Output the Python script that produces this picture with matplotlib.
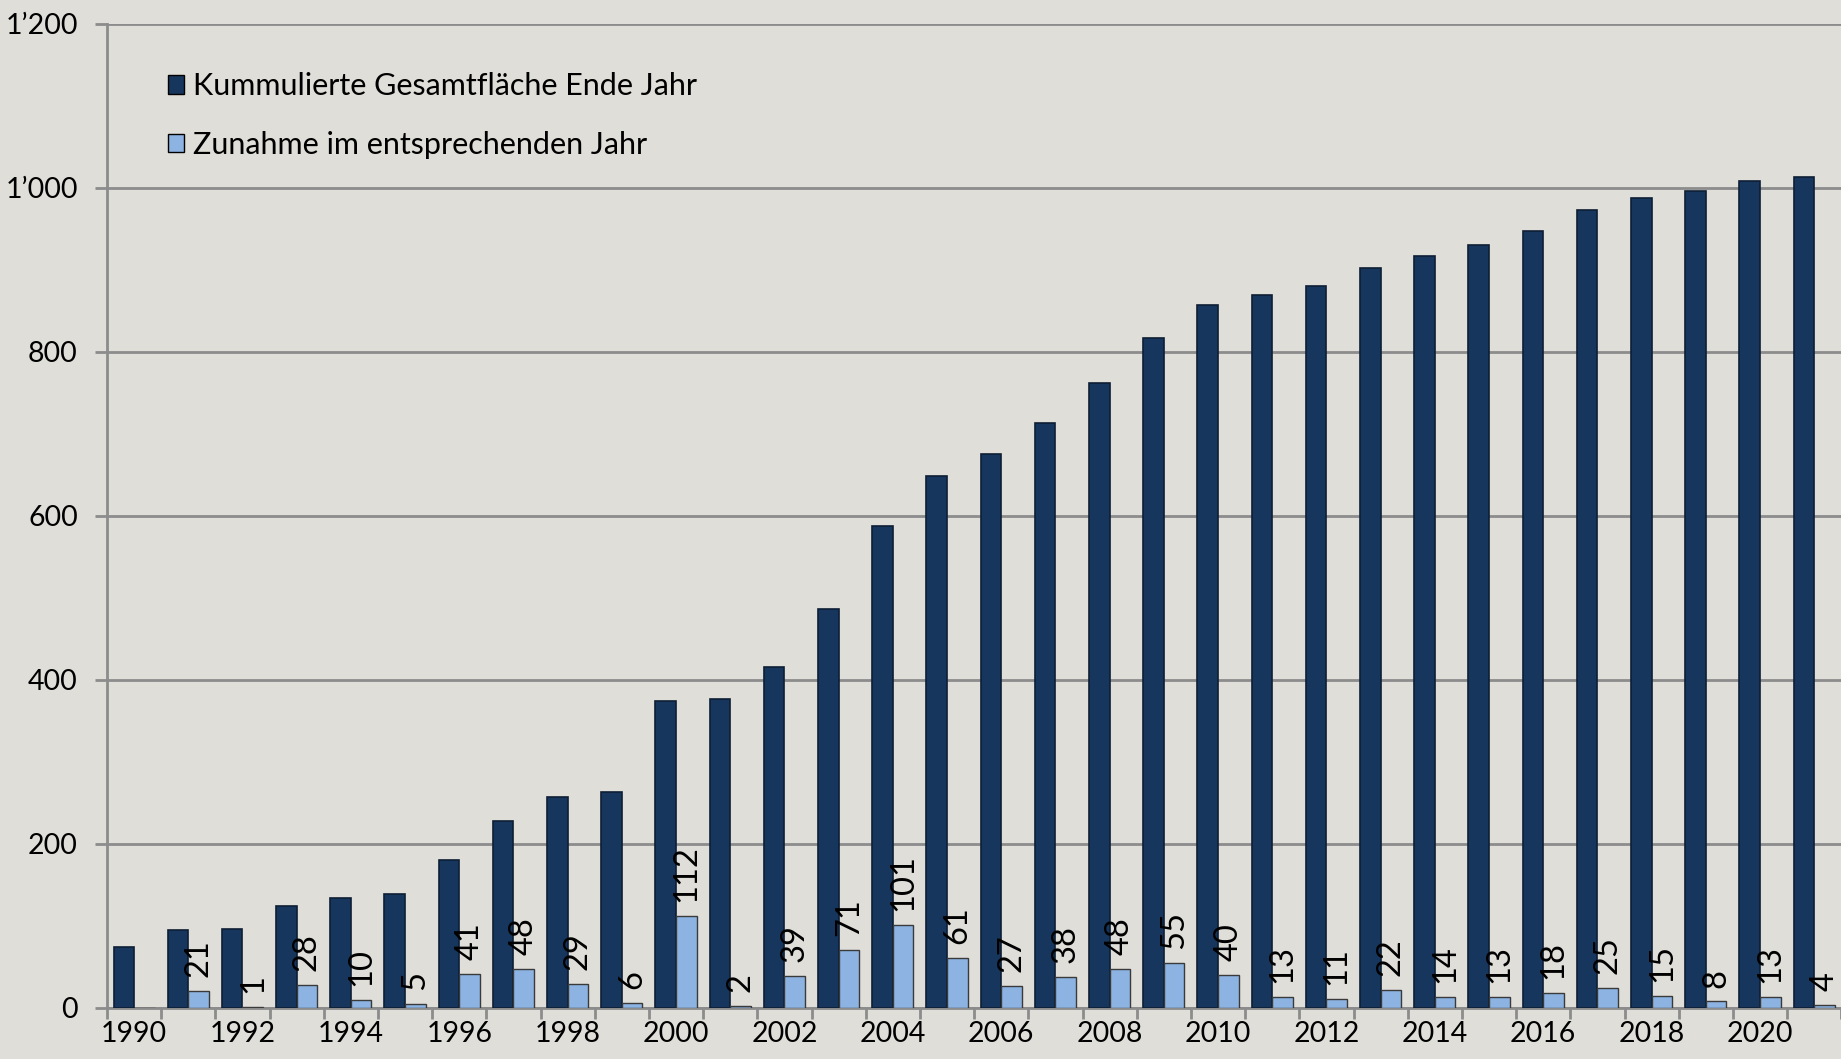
import matplotlib.pyplot as plt
import numpy as np
from matplotlib.patches import Patch

years = list(range(1990, 2022))
kumuliert = [74, 95, 96, 124, 134, 139, 180, 228, 257, 263, 375, 377, 416, 487, 588, 649,
             676, 714, 762, 817, 857, 870, 881, 903, 917, 930, 948, 973, 988, 996, 1009, 1013]
zunahme = [None, 21, 1, 28, 10, 5, 41, 48, 29, 6, 112, 2, 39, 71, 101, 61,
           27, 38, 48, 55, 40, 13, 11, 22, 14, 13, 18, 25, 15, 8, 13, 4]
y_ticks = [0, 200, 400, 600, 800, 1000, 1200]
y_labels = ["0", "200", "400", "600", "800", "1\u2019000", "1\u2019200"]

bg = "#dfded8"
dark = "#17365d"
light = "#8db3e2"
grid = "#8c8c8c"

plt.rcParams['font.family'] = ['Lato', 'DejaVu Sans']

fig = plt.figure(figsize=(18.41, 10.59), dpi=100, facecolor=bg)
ax = fig.add_axes([107 / 1841, 51 / 1059, 1 - 107 / 1841 + 3 / 1841, 984 / 1059])
ax.set_facecolor(bg)

x = np.arange(len(years))
w = 0.38
ax.bar(x - w / 2, kumuliert, w, color=dark, edgecolor="#0d1f35", linewidth=1.2, zorder=3)
z_vals = [v if v is not None else 0 for v in zunahme]
ax.bar(x + w / 2, z_vals, w, color=light, edgecolor="#3a3a3a", linewidth=1.0, zorder=3)
for xi, v in zip(x, zunahme):
    if v is None:
        continue
    ax.annotate(str(v), (xi + w / 2, v), xytext=(0, 10), textcoords="offset points",
                rotation=90, ha="center", va="bottom", fontsize=23.5, color="black", zorder=4)

ax.set_ylim(0, 1200)
ax.set_xlim(-0.5, 31.55)
ax.set_yticks(y_ticks)
ax.set_yticklabels(y_labels, fontsize=20.5)
ax.yaxis.grid(True, color=grid, linewidth=2, zorder=0)
ax.tick_params(axis="y", length=9, width=2, color=grid, pad=12)

ax.set_xticks(np.arange(len(years) + 1) - 0.5)
ax.set_xticklabels([])
ax.tick_params(axis="x", which="major", length=8, width=2, color=grid)
ax.set_xticks(x[::2], minor=True)
ax.set_xticklabels([str(y) for y in years[::2]], minor=True, fontsize=20.5)
ax.tick_params(axis="x", which="minor", length=0, pad=9)

for s in ["top", "right"]:
    ax.spines[s].set_visible(False)
ax.spines["left"].set_color(grid)
ax.spines["left"].set_linewidth(2)
ax.spines["bottom"].set_color(grid)
ax.spines["bottom"].set_linewidth(2)

handles = [Patch(facecolor=dark, edgecolor="black", linewidth=1),
           Patch(facecolor=light, edgecolor="black", linewidth=1)]
ax.legend(handles, ["Kummulierte Gesamtfläche Ende Jahr", "Zunahme im entsprechenden Jahr"],
          loc="upper left", bbox_to_anchor=(0.019, 0.979), frameon=False, fontsize=22,
          handlelength=0.55, handleheight=0.55, handletextpad=0.3, labelspacing=1.0)

fig.savefig("out.png", dpi=100, facecolor=bg)
